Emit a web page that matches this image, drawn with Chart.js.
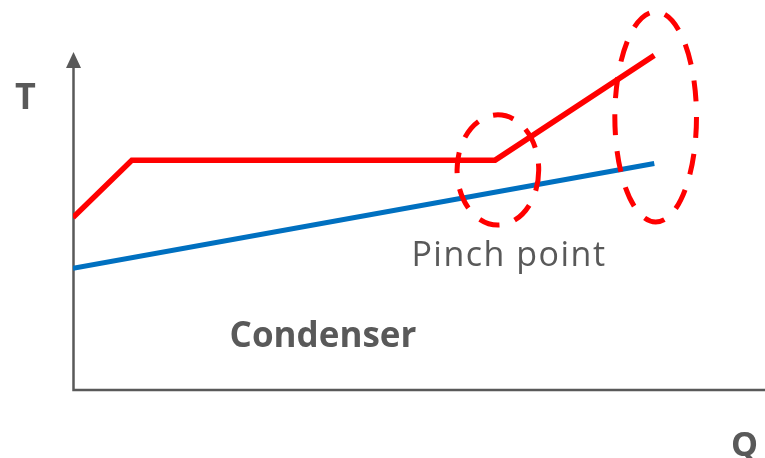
<!DOCTYPE html>
<html>
<head>
<meta charset="utf-8">
<script src="https://cdn.jsdelivr.net/npm/chart.js@4.4.0/dist/chart.umd.min.js"></script>
<style>
  html, body { margin: 0; padding: 0; background: #fff; }
</style>
</head>
<body>
<canvas id="myChart" width="765" height="458"></canvas>
<script>
// hot stream (condensing refrigerant) and cold stream, Q vs T
const hotQ = [0, 8.5, 61, 84];
const hotT = [51, 68, 68, 99];
const coldQ = [0, 84];
const coldT = [36, 67];

// dashed rings: centre Q, centre T, half-width (Q), half-height (T)
const ringQ = [61.4, 84.2];
const ringT = [65.1, 80.8];
const ringRQ = [5.9, 5.9];
const ringRT = [16.3, 31.1];

const axisColor = '#595959';

const axesPlugin = {
  id: 'axes',
  beforeDatasetsDraw(chart) {
    const ctx = chart.ctx;
    const a = chart.chartArea;
    ctx.save();
    ctx.strokeStyle = axisColor;
    ctx.lineWidth = 2.5;
    ctx.beginPath();
    ctx.moveTo(a.left + 0.5, a.top + 12);
    ctx.lineTo(a.left + 0.5, a.bottom);
    ctx.lineTo(a.right, a.bottom);
    ctx.stroke();
    // arrow head
    ctx.fillStyle = axisColor;
    ctx.beginPath();
    ctx.moveTo(a.left + 0.5, a.top);
    ctx.lineTo(a.left - 7, a.top + 16);
    ctx.lineTo(a.left + 8, a.top + 16);
    ctx.closePath();
    ctx.fill();
    ctx.restore();
  },
  afterDatasetsDraw(chart) {
    const ctx = chart.ctx;
    const x = chart.scales.x, y = chart.scales.y;
    ctx.save();
    ctx.strokeStyle = '#ff0000';
    ctx.lineWidth = 5;
    ctx.setLineDash([21, 16]);
    for (let i = 0; i < ringQ.length; i++) {
      const cx = x.getPixelForValue(ringQ[i]);
      const cy = y.getPixelForValue(ringT[i]);
      const rx = x.getPixelForValue(ringQ[i] + ringRQ[i]) - cx;
      const ry = cy - y.getPixelForValue(ringT[i] + ringRT[i]);
      ctx.beginPath();
      ctx.ellipse(cx, cy, rx, ry, 0, 0, Math.PI * 2);
      ctx.stroke();
    }
    ctx.setLineDash([]);
    ctx.fillStyle = axisColor;
    ctx.textBaseline = 'alphabetic';
    ctx.textAlign = 'left';
    ctx.font = 'bold 36px "Open Sans"';
    ctx.fillText('T', 15, 109);
    ctx.font = 'bold 34px "Open Sans"';
    ctx.fillText('Q', 731, 456);
    ctx.textAlign = 'center';
    ctx.font = '34px "Open Sans"';
    ctx.letterSpacing = '1.5px';
    ctx.fillText('Pinch point', 509, 266);
    ctx.letterSpacing = '0px';
    ctx.font = 'bold 35px "Open Sans"';
    ctx.fillText('Condenser', 323, 347);
    ctx.restore();
  }
};

const data = {
  datasets: [
    {
      label: 'Hot',
      data: hotQ.map((q, i) => ({x: q, y: hotT[i]})),
      borderColor: '#ff0000',
      borderWidth: 5.5,
      pointRadius: 0,
      tension: 0
    },
    {
      label: 'Cold',
      data: coldQ.map((q, i) => ({x: q, y: coldT[i]})),
      borderColor: '#0070c0',
      borderWidth: 5,
      pointRadius: 0,
      tension: 0
    }
  ]
};

const config = {
  type: 'line',
  data: data,
  options: {
    responsive: false,
    animation: false,
    layout: { padding: { left: 73, right: 0, top: 52, bottom: 68 } },
    scales: {
      x: { type: 'linear', min: 0, max: 100, display: false },
      y: { min: 0, max: 100, display: false }
    },
    plugins: {
      legend: { display: false },
      tooltip: { enabled: false }
    },
    elements: { line: { borderCapStyle: 'butt' } }
  },
  plugins: [axesPlugin]
};

var ctx = document.getElementById('myChart').getContext('2d');
var myChart = new Chart(ctx, config);
</script>
</body>
</html>
